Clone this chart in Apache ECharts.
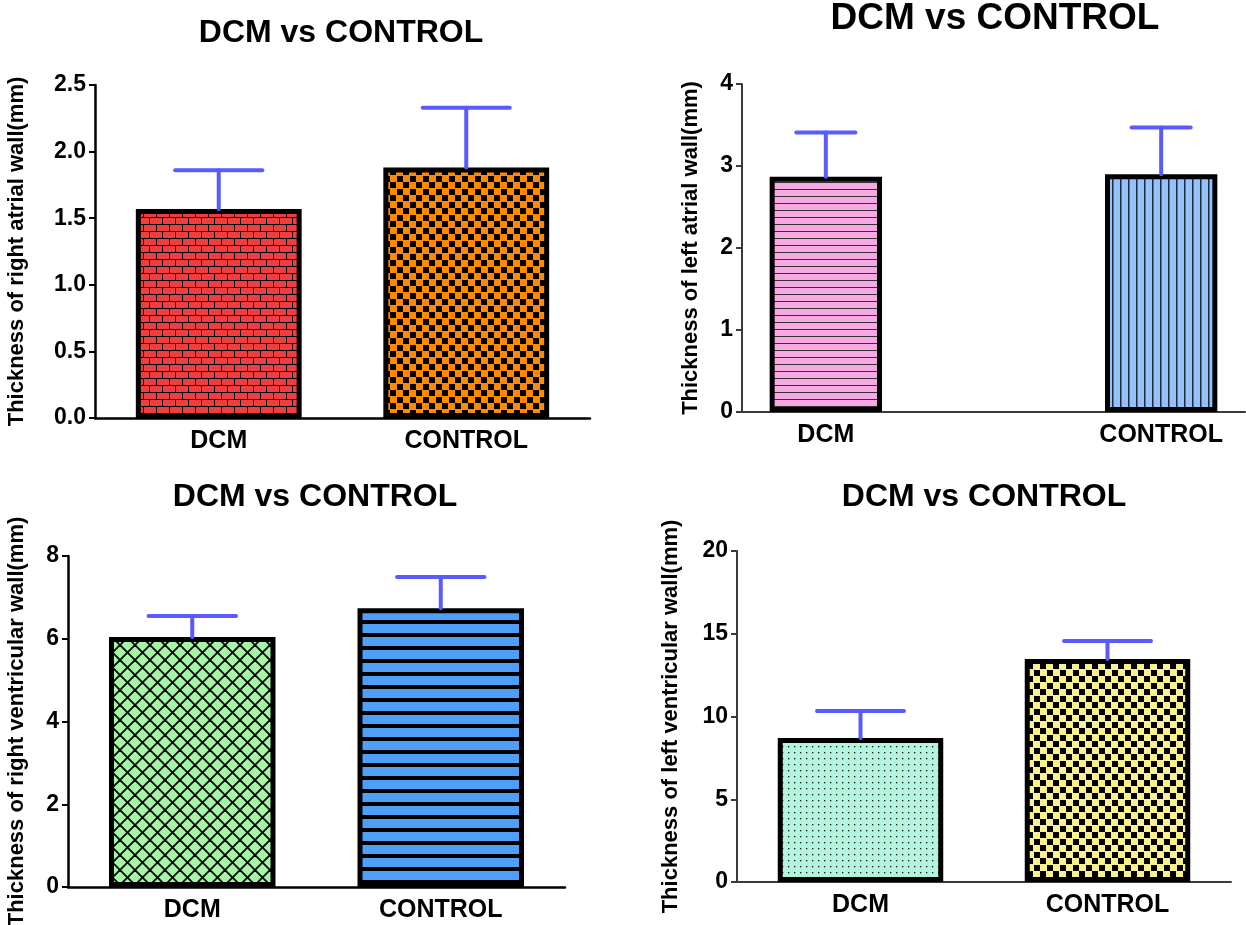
<!DOCTYPE html>
<html>
<head>
<meta charset="utf-8">
<script src="https://cdn.jsdelivr.net/npm/echarts@6/dist/echarts.min.js"></script>
<style>
html,body{margin:0;padding:0;background:#fff;}
#chart{width:1246px;height:925px;}
</style>
</head>
<body>
<div id="chart"></div>
<script>
// ---- Data ----
const titleText = 'DCM vs CONTROL';

const raCategories = ['DCM', 'CONTROL'];
const raMean = [1.57, 1.88];
const raSD = [0.29, 0.45];
const raName = 'Thickness of right atrial wall(mm)';

const laCategories = ['DCM', '', 'CONTROL'];
const laMean = [2.87, '-', 2.90];
const laSD = [0.54, '-', 0.57];
const laName = 'Thickness of left atrial wall(mm)';

const rvCategories = ['DCM', 'CONTROL'];
const rvMean = [6.04, 6.74];
const rvSD = [0.51, 0.75];
const rvName = 'Thickness of right ventricular wall(mm)';

const lvCategories = ['DCM', 'CONTROL'];
const lvMean = [8.70, 13.47];
const lvSD = [1.63, 1.09];
const lvName = 'Thickness of left ventricular wall(mm)';

// ---- Patterns ----
function mk(w, h, draw) {
  const c = document.createElement('canvas');
  c.width = w; c.height = h;
  const g = c.getContext('2d');
  draw(g, w, h);
  return c;
}
function pat(canvas) { return { image: canvas, repeat: 'repeat' }; }

const brick = mk(26, 14, (g, w, h) => {
  g.fillStyle = '#f03d3d'; g.fillRect(0, 0, w, h);
  g.fillStyle = '#000';
  g.fillRect(0, 0, w, 1); g.fillRect(0, 7, w, 1);
  g.fillRect(0, 0, 1, 7); g.fillRect(13, 0, 1, 7);
  g.fillRect(6, 7, 1, 7); g.fillRect(19, 7, 1, 7);
});
function checker(color) {
  return mk(13, 13, (g, w, h) => {
    g.fillStyle = color; g.fillRect(0, 0, w, h);
    g.fillStyle = '#000';
    g.fillRect(0, 0, 6, 6); g.fillRect(7, 7, 6, 6);
  });
}
const orangeChecker = checker('#ff8a00');
const yellowChecker = checker('#f9f190');
const pinkLines = mk(4, 7, (g, w, h) => {
  g.fillStyle = '#f6a8e2'; g.fillRect(0, 0, w, h);
  g.fillStyle = '#333'; g.fillRect(0, 0, w, 1);
});
const blueVLines = mk(8, 4, (g, w, h) => {
  g.fillStyle = '#94c1f7'; g.fillRect(0, 0, w, h);
  g.fillStyle = '#1e2a3a'; g.fillRect(0, 0, 1.5, h);
});
const greenHatch = mk(15, 15, (g, w, h) => {
  g.fillStyle = '#a4f5a4'; g.fillRect(0, 0, w, h);
  g.strokeStyle = '#000'; g.lineWidth = 1.8;
  for (let k = -1; k <= 1; k++) {
    g.beginPath(); g.moveTo(-2, -2 + k * 15); g.lineTo(17, 17 + k * 15); g.stroke();
    g.beginPath(); g.moveTo(-2, 17 + k * 15); g.lineTo(17, -2 + k * 15); g.stroke();
  }
});
const blueStripes = mk(4, 13, (g, w, h) => {
  g.fillStyle = '#000'; g.fillRect(0, 0, w, h);
  g.fillStyle = '#4f9ef7'; g.fillRect(0, 0, w, 9);
});
const mintDots = mk(6, 6, (g, w, h) => {
  g.fillStyle = '#b4f4dc'; g.fillRect(0, 0, w, h);
  g.fillStyle = '#111'; g.fillRect(2, 2, 1.3, 1.3);
});

// ---- Layout ----
const FONT = "'Liberation Sans', Arial, sans-serif";
const grids = [
  { left: 95, top: 85, width: 495, height: 333, outerBoundsMode: 'none', containLabel: false },
  { left: 742, top: 84, width: 503, height: 328, outerBoundsMode: 'none', containLabel: false },
  { left: 68, top: 556, width: 497, height: 331, outerBoundsMode: 'none', containLabel: false },
  { left: 737, top: 551, width: 494, height: 331, outerBoundsMode: 'none', containLabel: false }
];
const axisColors = ['#000', '#3a3a3a', '#000', '#3a3a3a'];
const axisWidths = [2.5, 2, 2.5, 2];

function xAxis(i, cats) {
  return {
    type: 'category', gridIndex: i, data: cats,
    axisLine: { lineStyle: { color: axisColors[i], width: axisWidths[i] } },
    axisTick: { alignWithLabel: true, length: 7, lineStyle: { color: axisColors[i], width: 2 } },
    axisLabel: { color: '#000', fontFamily: FONT, fontWeight: 'bold', fontSize: 25, margin: 11, interval: 0 },
    splitLine: { show: false }
  };
}
function yAxis(i, max, interval, name, gap, fmt) {
  return {
    type: 'value', gridIndex: i, min: 0, max: max, interval: interval,
    name: name, nameLocation: 'middle', nameGap: gap, nameRotate: 90,
    nameTextStyle: { color: '#000', fontFamily: FONT, fontWeight: 'bold', fontSize: 22 },
    axisLine: { show: true, lineStyle: { color: axisColors[i], width: axisWidths[i] } },
    axisTick: { show: true, length: 6, lineStyle: { color: axisColors[i], width: 2 } },
    axisLabel: { color: '#000', fontFamily: FONT, fontWeight: 'bold', fontSize: 23, margin: 9, formatter: fmt },
    splitLine: { show: false }
  };
}

function barSeries(i, means, patterns) {
  return {
    type: 'bar', xAxisIndex: i, yAxisIndex: i, barWidth: '67%', z: 2,
    data: means.map((v, k) => ({
      value: v,
      itemStyle: { color: patterns[k] ? pat(patterns[k]) : '#fff', borderColor: '#000', borderWidth: 5 }
    }))
  };
}
function errSeries(i, means, sds) {
  const data = [];
  means.forEach((m, k) => { if (m !== '-') data.push([k, m, m + sds[k]]); });
  return {
    type: 'custom', xAxisIndex: i, yAxisIndex: i, z: 5,
    encode: { x: 0, y: [1, 2] },
    data: data,
    renderItem: function (params, api) {
      const x = api.value(0);
      const p0 = api.coord([x, api.value(1)]);
      const p1 = api.coord([x, api.value(2)]);
      const hw = api.size([1, 0])[0] * 0.176;
      const st = { stroke: '#5a5aff', lineWidth: 4, lineCap: 'round' };
      return {
        type: 'group', children: [
          { type: 'line', shape: { x1: p0[0], y1: p0[1], x2: p1[0], y2: p1[1] }, style: st },
          { type: 'line', shape: { x1: p1[0] - hw, y1: p1[1], x2: p1[0] + hw, y2: p1[1] }, style: st }
        ]
      };
    }
  };
}

function titleEl(x, y, size) {
  return {
    type: 'text', x: x, y: y,
    style: { text: titleText, fill: '#000', font: 'bold ' + size + 'px ' + FONT, textAlign: 'center', textVerticalAlign: 'middle' }
  };
}

const chart = echarts.init(document.getElementById('chart'), null, { renderer: 'canvas' });
chart.setOption({
  animation: false,
  backgroundColor: '#fff',
  graphic: [
    titleEl(341, 33, 32),
    titleEl(995, 19, 37),
    titleEl(315, 497, 32),
    titleEl(984, 497, 32)
  ],
  grid: grids,
  xAxis: [
    xAxis(0, raCategories),
    xAxis(1, laCategories),
    xAxis(2, rvCategories),
    xAxis(3, lvCategories)
  ],
  yAxis: [
    yAxis(0, 2.5, 0.5, raName, 67, v => v.toFixed(1)),
    yAxis(1, 4, 1, laName, 40, v => String(v)),
    yAxis(2, 8, 2, rvName, 40, v => String(v)),
    yAxis(3, 20, 5, lvName, 55, v => String(v))
  ],
  series: [
    barSeries(0, raMean, [brick, orangeChecker]),
    errSeries(0, raMean, raSD),
    barSeries(1, laMean, [pinkLines, null, blueVLines]),
    errSeries(1, laMean, laSD),
    barSeries(2, rvMean, [greenHatch, blueStripes]),
    errSeries(2, rvMean, rvSD),
    barSeries(3, lvMean, [mintDots, yellowChecker]),
    errSeries(3, lvMean, lvSD)
  ]
});
</script>
</body>
</html>
